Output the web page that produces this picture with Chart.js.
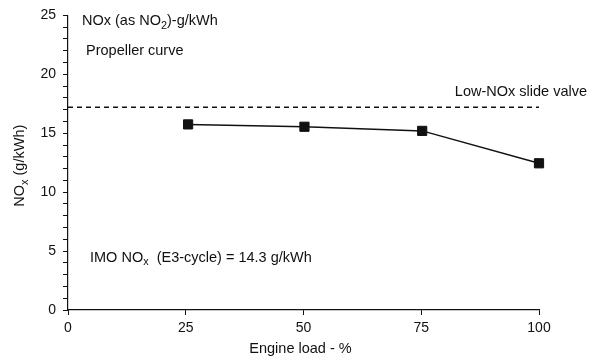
<!DOCTYPE html>
<html>
<head>
<meta charset="utf-8">
<script src="https://cdn.jsdelivr.net/npm/chart.js@4.4.1/dist/chart.umd.min.js"></script>
<style>
html,body{margin:0;padding:0;background:#fff;}
#wrap{width:601px;height:358px;position:relative;}
</style>
</head>
<body>
<div id="wrap"><canvas id="c" width="601" height="358"></canvas></div>
<script>
// Data
const engineLoad = [25.5, 50.2, 75.2, 100];
const noxValues = [15.75, 15.55, 15.2, 12.45];
const slideValveLimit = 17.2;
const xTicks = [0, 25, 50, 75, 100];
const yMajorTicks = [0, 5, 10, 15, 20, 25];

const FONT = '"Liberation Sans", Arial, sans-serif';
const INK = '#111';

// rich text helper: segments [{t, sub}]
function drawRich(ctx, segs, x, y, size, align) {
  ctx.save();
  ctx.textBaseline = 'alphabetic';
  ctx.textAlign = 'left';
  let total = 0;
  segs.forEach(s => {
    ctx.font = (s.sub ? size * 0.75 : size) + 'px ' + FONT;
    total += ctx.measureText(s.t).width;
  });
  let cx = align === 'center' ? x - total / 2 : (align === 'right' ? x - total : x);
  segs.forEach(s => {
    ctx.font = (s.sub ? size * 0.75 : size) + 'px ' + FONT;
    ctx.fillText(s.t, cx, s.sub ? y + size * 0.25 : y);
    cx += ctx.measureText(s.t).width;
  });
  ctx.restore();
}

const annotations = {
  id: 'annotations',
  afterDraw(chart) {
    const ctx = chart.ctx;
    const xs = chart.scales.x, ys = chart.scales.y;
    ctx.save();
    ctx.fillStyle = INK;
    const size = 14.5;
    drawRich(ctx, [{t: 'NOx (as NO'}, {t: '2', sub: true}, {t: ')-g/kWh'}], xs.left + 14, ys.top + 10, size, 'left');
    drawRich(ctx, [{t: 'Propeller curve'}], xs.left + 18, ys.top + 40, size, 'left');
    drawRich(ctx, [{t: 'Low-NOx slide valve'}], xs.right + 48, ys.getPixelForValue(slideValveLimit) - 11, size, 'right');
    drawRich(ctx, [{t: 'IMO NO'}, {t: 'x', sub: true}, {t: '  (E3-cycle) = 14.3 g/kWh'}], xs.left + 22, ys.getPixelForValue(4) - 1, size, 'left');
    // y-axis title
    ctx.save();
    ctx.translate(24, (ys.top + ys.bottom) / 2 + 3);
    ctx.rotate(-Math.PI / 2);
    drawRich(ctx, [{t: 'NO'}, {t: 'x', sub: true}, {t: ' (g/kWh)'}], 0, 0, size, 'center');
    ctx.restore();
    // x-axis title
    drawRich(ctx, [{t: 'Engine load - %'}], (xs.left + xs.right) / 2 - 3, 353, size, 'center');
    ctx.restore();
  }
};

new Chart(document.getElementById('c'), {
  type: 'scatter',
  data: {
    datasets: [
      {
        data: engineLoad.map((x, i) => ({x: x, y: noxValues[i]})),
        showLine: true,
        clip: false,
        borderColor: INK,
        borderWidth: 1.5,
        backgroundColor: INK,
        pointStyle: 'rect',
        pointRadius: 6.5,
        pointBorderWidth: 1,
        pointBorderColor: INK,
        tension: 0
      },
      {
        data: [{x: xTicks[0], y: slideValveLimit}, {x: xTicks[xTicks.length - 1], y: slideValveLimit}],
        showLine: true,
        borderColor: INK,
        borderWidth: 1.5,
        borderDash: [5, 4],
        pointRadius: 0,
        pointHoverRadius: 0
      }
    ]
  },
  options: {
    responsive: false,
    animation: false,
    events: [],
    layout: {padding: {top: 14, right: 62, bottom: 0, left: 0}},
    plugins: {legend: {display: false}, tooltip: {enabled: false}},
    scales: {
      x: {
        type: 'linear',
        min: xTicks[0], max: xTicks[xTicks.length - 1],
        afterBuildTicks(s) { s.ticks = xTicks.map(v => ({value: v})); },
        afterFit(s) { s.height = 48; },
        border: {color: INK, width: 1.2},
        grid: {drawOnChartArea: false, color: INK, tickLength: 5, lineWidth: 1},
        ticks: {color: INK, font: {family: FONT, size: 14}, padding: 5, maxRotation: 0}
      },
      y: {
        type: 'linear',
        min: yMajorTicks[0], max: yMajorTicks[yMajorTicks.length - 1],
        afterBuildTicks(s) {
          const t = [];
          for (let v = yMajorTicks[0]; v <= yMajorTicks[yMajorTicks.length - 1]; v++) t.push({value: v});
          s.ticks = t;
        },
        afterFit(s) { s.width = 68; },
        border: {color: INK, width: 1.2},
        grid: {drawOnChartArea: false, color: INK, tickLength: 5, lineWidth: 1},
        ticks: {
          color: INK, font: {family: FONT, size: 14}, padding: 7, autoSkip: false,
          callback: v => yMajorTicks.includes(v) ? String(v) : ''
        }
      }
    }
  },
  plugins: [annotations]
});
</script>
</body>
</html>
